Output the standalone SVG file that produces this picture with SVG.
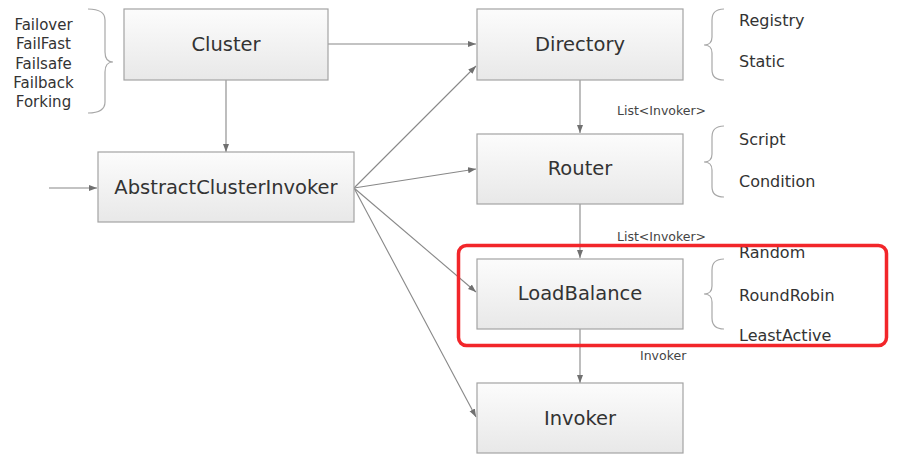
<svg xmlns="http://www.w3.org/2000/svg" width="897" height="466" viewBox="0 0 897 466">
<defs>
<linearGradient id="boxfill" x1="0" y1="0" x2="0" y2="1">
<stop offset="0" stop-color="#fcfcfc"/>
<stop offset="1" stop-color="#e8e8e8"/>
</linearGradient>
<marker id="arr" markerUnits="userSpaceOnUse" markerWidth="9" markerHeight="7" refX="8" refY="3.5" orient="auto">
<path d="M0,0.5 L8,3.5 L0,6.5 z" fill="#707070"/>
</marker>
<style>
.box{fill:url(#boxfill);stroke:#a3a3a3;stroke-width:1.2}
.lbl{font-family:"DejaVu Sans",Verdana,sans-serif;font-size:19.5px;fill:#333;text-anchor:middle}
.side{font-family:"DejaVu Sans",Verdana,sans-serif;font-size:15px;fill:#333;text-anchor:middle}
.opt{font-family:"DejaVu Sans",Verdana,sans-serif;font-size:16px;fill:#333}
.elbl{font-family:"DejaVu Sans",Verdana,sans-serif;font-size:12.5px;fill:#444}
.edge{stroke:#888;stroke-width:1.1;fill:none;marker-end:url(#arr)}
.brace{stroke:#a8a8a8;stroke-width:1.2;fill:none}
</style>
</defs>

<g id="connectors">
<line class="edge" x1="328" y1="44" x2="476" y2="44"/>
<line class="edge" x1="226" y1="80" x2="226" y2="152"/>
<line class="edge" x1="49" y1="188" x2="97" y2="188"/>
<line class="edge" x1="354" y1="188" x2="476" y2="66"/>
<line class="edge" x1="354" y1="188" x2="476" y2="169"/>
<line class="edge" x1="354" y1="188" x2="476" y2="292"/>
<line class="edge" x1="354" y1="188" x2="476" y2="417"/>
<line class="edge" x1="580" y1="80" x2="580" y2="133"/>
<line class="edge" x1="580" y1="204" x2="580" y2="258"/>
<line class="edge" x1="580" y1="329" x2="580" y2="383"/>
<text class="elbl" x="617" y="115">List&lt;Invoker&gt;</text>
<text class="elbl" x="617" y="241">List&lt;Invoker&gt;</text>
<text class="elbl" x="640" y="360">Invoker</text>
</g>

<g id="cluster-options">
<path class="brace" d="M88,9 Q105,9 105,20 L105,52 Q105,62 113,62 Q105,62 105,72 L105,102 Q105,113 88,113"/>
<text class="side" x="43.5" y="30">Failover</text>
<text class="side" x="43.5" y="49">FailFast</text>
<text class="side" x="43.5" y="68.5">Failsafe</text>
<text class="side" x="43.5" y="87.5">Failback</text>
<text class="side" x="43.5" y="106.5">Forking</text>
</g>

<g id="node-cluster">
<rect class="box" x="124" y="9" width="204" height="71"/>
<text class="lbl" x="226" y="51">Cluster</text>
</g>

<g id="node-abstractclusterinvoker">
<rect class="box" x="98" y="152" width="256" height="70"/>
<text class="lbl" x="226" y="194">AbstractClusterInvoker</text>
</g>

<g id="node-directory">
<rect class="box" x="477" y="9" width="206" height="71"/>
<text class="lbl" x="580" y="51">Directory</text>
</g>

<g id="directory-options">
<path class="brace" d="M724,9 Q712,9 712,20 L712,37 Q712,45 704,45 Q712,45 712,53 L712,70 Q712,80 724,80"/>
<text class="opt" x="739" y="26">Registry</text>
<text class="opt" x="739" y="67">Static</text>
</g>

<g id="node-router">
<rect class="box" x="477" y="134" width="206" height="70"/>
<text class="lbl" x="580" y="175">Router</text>
</g>

<g id="router-options">
<path class="brace" d="M724,126 Q712,126 712,137 L712,154 Q712,162 704,162 Q712,162 712,170 L712,187 Q712,197 724,197"/>
<text class="opt" x="739" y="145">Script</text>
<text class="opt" x="739" y="187">Condition</text>
</g>

<g id="node-loadbalance">
<rect class="box" x="477" y="259" width="206" height="70"/>
<text class="lbl" x="580" y="300">LoadBalance</text>
</g>

<g id="loadbalance-options">
<path class="brace" d="M724,259 Q712,259 712,270 L712,286 Q712,294 704,294 Q712,294 712,302 L712,318 Q712,329 724,329"/>
<text class="opt" x="739" y="258">Random</text>
<text class="opt" x="739" y="301">RoundRobin</text>
<text class="opt" x="739" y="341">LeastActive</text>
</g>

<g id="node-invoker">
<rect class="box" x="477" y="383" width="206" height="70"/>
<text class="lbl" x="580" y="425">Invoker</text>
</g>

<g id="highlight">
<rect x="458.5" y="245.5" width="428" height="100" rx="8" ry="8" fill="none" stroke="#f2262a" stroke-width="3.5"/>
</g>
</svg>
